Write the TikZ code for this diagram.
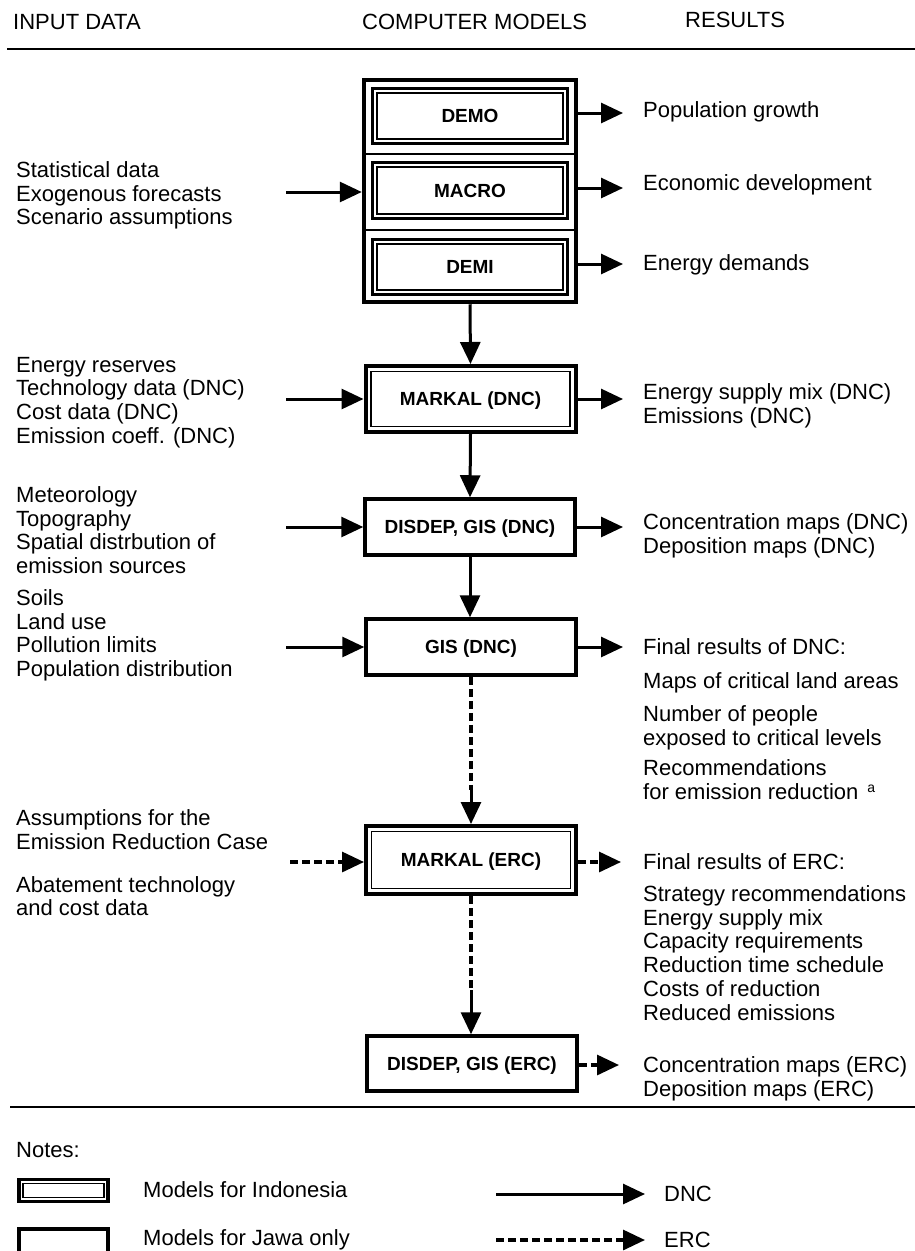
\documentclass[tikz,border=0pt]{standalone}
\usepackage{fontspec}
\setmainfont{Liberation Sans}
\usetikzlibrary{arrows.meta,calc}
\newcommand{\fs}{\fontsize{22}{22.5}\selectfont}
\newcommand{\fbx}{\fontsize{19}{20}\selectfont\bfseries}
\begin{document}
\begin{tikzpicture}[x=1pt,y=-1pt,
  txt/.style={anchor=north west, inner sep=0pt, align=left, font=\fs},
  lbl/.style={anchor=west, inner sep=0pt, font=\fs},
  jbox/.style={draw, line width=3.5pt, minimum width=210pt, inner sep=0pt, font=\fbx, text height=13.7pt, text depth=0pt},
  ibox/.style={jbox, line width=4pt, path picture={\draw[line width=1.3pt] ([xshift=5.5pt,yshift=-5.5pt]path picture bounding box.north west) rectangle ([xshift=-5.5pt,yshift=5.5pt]path picture bounding box.south east);}},
  sbox/.style={draw, line width=3pt, minimum width=195pt, inner sep=0pt, font=\fbx, text height=13.7pt, text depth=0pt, path picture={\draw[line width=1.1pt] ([xshift=4.5pt,yshift=-4.5pt]path picture bounding box.north west) rectangle ([xshift=-4.5pt,yshift=4.5pt]path picture bounding box.south east);}},
  arr/.style={line width=3pt, -{Triangle[length=22pt,width=20pt]}},
  darr/.style={line width=3.2pt, dash pattern=on 8pt off 4pt, -{Triangle[length=22pt,width=20pt]}},
  dline/.style={line width=3.2pt, dash pattern=on 8pt off 4pt},
  rule/.style={line width=2.5pt}
]
\useasboundingbox (0,0) rectangle (915,1251);

% header
\node[lbl] (h1) at (13,22) {INPUT DATA};
\node[lbl] (h2) at (362,22) {COMPUTER MODELS};
\node[lbl] (h3) at (685,20) {RESULTS};
\coordinate (hl1) at (7,49); \coordinate (hl2) at (915,49);
\draw[rule] (hl1) -- (hl2);

% top composite box
\node[draw, line width=4.5pt, minimum width=212pt, minimum height=222pt, inner sep=0pt] (topbox) at (470,191) {};
\coordinate (s1a) at (365,154); \coordinate (s2a) at (365,230);
\draw[line width=1.2pt] (s1a) -- (s1a -| topbox.east);
\draw[line width=1.2pt] (s2a) -- (s2a -| topbox.east);
\node[sbox, minimum height=55pt] (demo) at (470,116) {DEMO};
\node[sbox, minimum height=56pt] (macro) at (470,190.5) {MACRO};
\node[sbox, minimum height=55pt] (demi) at (470,267) {DEMI};

% model boxes
\node[ibox, minimum height=66pt] (markald) at (470.5,399) {MARKAL (DNC)};
\node[jbox, minimum height=56pt] (disdepd) at (470,527) {DISDEP, GIS (DNC)};
\node[jbox, minimum height=56pt] (gisd) at (471,647) {GIS (DNC)};
\node[ibox, minimum height=68pt] (markale) at (471,860) {MARKAL (ERC)};
\node[jbox, minimum height=55pt] (disdepe) at (472,1063.5) {DISDEP, GIS (ERC)};

% vertical connectors
\draw[arr] (topbox.south) -- (markald.north);
\draw[arr] (markald.south) -- (disdepd.north);
\draw[arr] (disdepd.south) -- (gisd.north -| disdepd.south);
\coordinate (c1) at (471,790);
\draw[dline] (gisd.south) -- (c1);
\draw[arr] (c1) -- (markale.north);
\coordinate (c2) at (471,990);
\draw[dline] (markale.south) -- (c2);
\draw[arr] (c2) -- (c2 |- disdepe.north);

% input texts
\node[txt] (in1) at (16,161.25) {Statistical data\strut\\Exogenous forecasts\strut\\Scenario assumptions\strut};
\node[txt] (in2) at (16,356.25) {Energy reserves\strut\\Technology data (DNC)\strut\\Cost data (DNC)\strut\\Emission coeff. (DNC)\strut};
\node[txt] (in3) at (16,486.25) {Meteorology\strut\\Topography\strut\\Spatial distrbution of\strut\\emission sources\strut};
\node[txt] (in4) at (16,589.25) {Soils\strut\\Land use\strut\\Pollution limits\strut\\Population distribution\strut};
\node[txt] (in5) at (16,809.25) {Assumptions for the\strut\\Emission Reduction Case\strut\\[19.5pt]Abatement technology\strut\\and cost data\strut};

% input arrows
\coordinate (l1) at (286,192);
\draw[arr] (l1) -- (l1 -| topbox.west);
\coordinate (l2) at (286,399);
\draw[arr] (l2) -- (markald.west);
\coordinate (l3) at (286,527);
\draw[arr] (l3) -- (disdepd.west);
\coordinate (l4) at (286,647);
\draw[arr] (l4) -- (gisd.west);
\coordinate (l5) at (290,862);
\draw[darr] (l5) -- (l5 -| markale.west);

% result texts
\node[txt] (out1) at (643,101.25) {Population growth\strut};
\node[txt] (out2) at (643,174.25) {Economic development\strut};
\node[txt] (out3) at (643,254.25) {Energy demands\strut};
\node[txt] (out4) at (643,383.25) {Energy supply mix (DNC)\strut\\Emissions (DNC)\strut};
\node[txt] (out5) at (643,513.25) {Concentration maps (DNC)\strut\\Deposition maps (DNC)\strut};
\node[txt] (out6) at (643,638.25) {Final results of DNC:\strut\\[10.5pt]Maps of critical land areas\strut\\[9.5pt]Number of people\strut\\exposed to critical levels\strut\\[6.5pt]Recommendations\strut\\for emission reduction\hspace{9pt}\raisebox{7pt}{\fontsize{14}{14}\selectfont a}\strut};
\node[txt] (out7) at (643,853.25) {Final results of ERC:\strut\\[8.5pt]Strategy recommendations\strut\\Energy supply mix\strut\\Capacity requirements\strut\\Reduction time schedule\strut\\Costs of reduction\strut\\Reduced emissions\strut};
\node[txt] (out8) at (643,1056.25) {Concentration maps (ERC)\strut\\Deposition maps (ERC)\strut};

% result arrows
\coordinate (r1) at (623,113);
\draw[arr] (topbox.east |- r1) -- (r1);
\coordinate (r2) at (623,188);
\draw[arr] (topbox.east |- r2) -- (r2);
\coordinate (r3) at (623,264);
\draw[arr] (topbox.east |- r3) -- (r3);
\coordinate (r4) at (623,399);
\draw[arr] (markald.east) -- (r4);
\coordinate (r5) at (623,527);
\draw[arr] (disdepd.east) -- (r5);
\coordinate (r6) at (623,647);
\draw[arr] (gisd.east) -- (r6);
\coordinate (r7) at (621,862);
\draw[darr] (markale.east |- r7) -- (r7);
\coordinate (r8) at (619,1065);
\draw[darr] (disdepe.east |- r8) -- (r8);

% bottom rule and legend
\coordinate (bl1) at (10,1107); \coordinate (bl2) at (915,1107);
\draw[rule] (bl1) -- (bl2);
\node[lbl] (notes) at (16,1150) {Notes:};
\node[ibox, minimum width=89pt, minimum height=22pt, line width=3.5pt, path picture={\draw[line width=1.2pt] ([xshift=4pt,yshift=-4pt]path picture bounding box.north west) rectangle ([xshift=-4pt,yshift=4pt]path picture bounding box.south east);}] (legi) at (63.5,1190.5) {};
\node[lbl] (legit) at (143,1190) {Models for Indonesia};
\node[jbox, minimum width=89pt, minimum height=32pt] (legj) at (63.5,1245) {};
\node[lbl] (legjt) at (143,1240) {Models for Jawa only};
\coordinate (a1) at (496,1194); \coordinate (a2) at (645,1194);
\draw[arr] (a1) -- (a2);
\node[lbl] (dnc) at (664,1194) {DNC};
\coordinate (b1) at (496,1240); \coordinate (b2) at (645,1240);
\draw[darr] (b1) -- (b2);
\node[lbl] (erc) at (664,1240) {ERC};
\end{tikzpicture}
\end{document}
